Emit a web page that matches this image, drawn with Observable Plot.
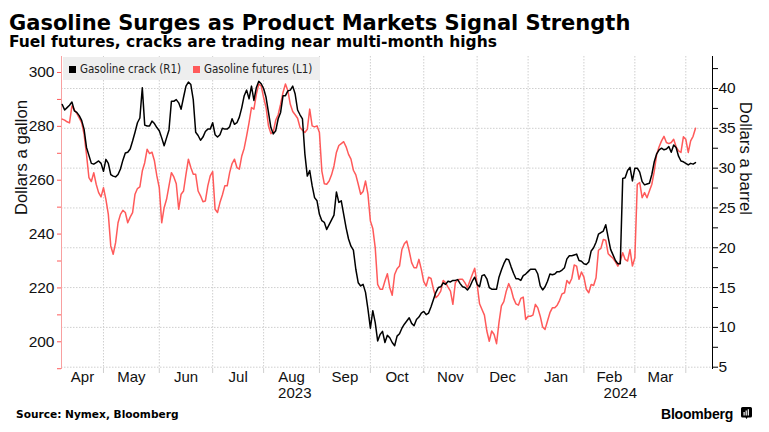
<!DOCTYPE html>
<html>
<head>
<meta charset="utf-8">
<script src="https://cdn.jsdelivr.net/npm/d3@7"></script>
<script src="https://cdn.jsdelivr.net/npm/@observablehq/plot@0.6"></script>
<style>
  body { margin: 0; background: #fff; }
  #wrap { position: relative; width: 769px; height: 432px; background: #fff; overflow: hidden; }
  .abs { position: absolute; white-space: nowrap; line-height: 1; }
  #title { left: 9px; top: 10.5px; font: bold 21px "DejaVu Sans", sans-serif; color: #000; }
  #subtitle { left: 9px; top: 33.4px; font: bold 15.5px "DejaVu Sans", sans-serif; color: #000; }
  #chart { position: absolute; left: 0; top: 50px; }
  #legend { position: absolute; left: 63px; top: 57px; width: 257px; height: 23px; background: #eeeeee;
            font: 11.5px "DejaVu Sans Condensed", sans-serif; color: #222; }
  #legend .item { position: absolute; top: 5.5px; line-height: 12px; }
  #legend .sw { display: inline-block; width: 7px; height: 7px; margin-right: 4px; vertical-align: 0px; }
  #source { left: 16px; top: 408px; font: bold 10.6px "DejaVu Sans", sans-serif; color: #000; }
  #brand { left: 661px; top: 405.7px; font: bold 14px "Liberation Sans", sans-serif; letter-spacing: -0.2px; color: #000; }
  #icon { position: absolute; left: 741px; top: 407px; }
</style>
</head>
<body>
<div id="wrap">
  <div id="title" class="abs">Gasoline Surges as Product Markets Signal Strength</div>
  <div id="subtitle" class="abs">Fuel futures, cracks are trading near multi-month highs</div>
  <div id="chart"></div>
  <div id="legend">
    <div class="item" style="left:6px"><span class="sw" style="background:#000"></span>Gasoline crack (R1)</div>
    <div class="item" style="left:130px"><span class="sw" style="background:#ff5a5a"></span>Gasoline futures (L1)</div>
  </div>
  <div id="source" class="abs">Source: Nymex, Bloomberg</div>
  <div id="brand" class="abs">Bloomberg</div>
  <svg id="icon" width="11" height="12" viewBox="0 0 11 12">
    <path d="M1.5 0 H9.5 A1.5 1.5 0 0 1 11 1.5 V9 A1.5 1.5 0 0 1 9.5 10.5 H6.5 L5.5 12 L4.5 10.5 H1.5 A1.5 1.5 0 0 1 0 9 V1.5 A1.5 1.5 0 0 1 1.5 0 Z" fill="#000"/>
    <rect x="2.5" y="5" width="1.2" height="3.5" fill="#fff"/>
    <rect x="4.6" y="3.5" width="1.2" height="5" fill="#fff"/>
    <rect x="6.7" y="2.2" width="1.2" height="6.3" fill="#fff"/>
  </svg>
</div>
<script>
// ---- Data (one value per weekday, starting at startDate) ----
const startDate = "2023-04-06";

// Gasoline crack, dollars a barrel (right axis, R1)
const crack = [
  38.0,37.3,37.6,37.9,38.3,37.2,37.0,36.6,36.0,34.9,
  32.6,31.6,30.6,30.5,30.7,30.9,30.6,29.6,31.1,30.6,
  29.2,29.0,28.9,29.2,29.9,31.0,31.9,32.0,32.4,33.4,
  34.5,35.7,36.3,40.1,35.4,35.3,35.3,35.9,35.6,35.1,
  34.7,33.8,32.8,33.8,34.8,38.4,38.4,38.6,38.2,37.4,
  38.9,40.3,40.8,40.5,38.6,34.5,34.1,33.5,33.9,34.6,
  34.9,34.9,35.7,34.2,33.9,34.2,35.0,34.9,34.9,35.2,
  36.2,35.5,35.7,36.4,37.6,39.1,39.8,38.7,40.3,38.5,
  40.1,40.9,40.6,40.0,38.9,37.0,35.1,34.3,34.7,36.2,
  37.0,39.1,39.1,39.7,39.8,40.3,39.3,37.3,36.7,36.2,
  31.8,29.0,29.7,27.8,26.3,25.9,24.2,23.4,23.2,22.3,
  22.9,23.5,24.1,27.0,25.7,25.9,24.2,22.5,21.1,20.2,
  19.7,17.3,15.6,15.2,15.4,14.4,12.3,9.9,12.1,10.6,
  8.3,9.1,9.5,8.1,9.0,8.7,8.1,7.7,8.9,9.2,
  9.9,10.4,10.8,11.2,10.5,10.2,11.0,11.3,11.8,12.0,
  11.6,11.8,12.6,13.5,14.4,15.0,15.1,15.6,15.4,15.8,
  15.7,15.9,15.9,16.0,15.5,15.1,15.0,14.7,15.1,15.8,
  16.3,15.4,15.1,16.5,16.6,16.1,15.0,14.8,14.8,14.8,
  16.3,17.2,18.0,18.6,18.5,17.6,16.8,16.1,16.1,15.9,
  16.5,16.7,17.0,17.3,17.3,17.3,16.7,15.2,14.7,15.1,
  15.8,16.7,16.6,16.7,17.0,17.0,17.2,17.5,18.6,19.0,
  19.0,19.1,19.2,18.4,18.3,18.0,17.9,18.2,19.6,20.0,
  20.7,21.7,21.9,22.1,22.9,21.3,19.8,19.1,18.4,18.0,
  18.0,28.7,28.8,29.7,30.1,28.4,30.0,30.0,29.5,28.3,
  27.9,28.0,28.1,29.2,30.8,31.8,32.3,32.5,32.3,32.4,
  32.7,32.0,32.9,32.6,31.5,30.9,30.8,30.6,30.4,30.6,
  30.5,30.7
];

// Gasoline futures, cents a gallon (left axis, L1)
const futures = [
  282.7,282.3,281.7,281.3,287.6,286.1,284.8,283.1,281.4,277.1,
  269.6,261.0,259.5,262.8,258.5,255.4,253.8,257.2,252.9,247.3,
  235.6,232.5,236.8,244.2,247.3,248.8,248.0,244.2,246.3,248.0,
  254.8,256.9,257.5,263.4,266.5,271.5,269.9,270.4,267.2,261.6,
  257.2,244.2,249.8,252.9,257.9,262.8,261.2,258.7,249.2,254.8,
  256.0,262.2,267.8,264.7,262.2,262.2,256.0,254.2,252.0,252.3,
  257.9,261.6,263.2,249.2,248.0,251.7,254.5,257.9,257.9,262.8,
  266.2,267.8,264.7,264.1,269.0,271.9,276.5,281.4,287.0,286.4,
  291.9,295.7,295.0,290.7,287.0,280.2,277.3,278.1,282.3,284.3,
  288.2,292.6,295.7,293.2,288.2,285.5,284.3,283.0,279.6,278.6,
  277.7,278.9,286.4,280.2,279.8,280.2,277.7,263.4,258.7,258.5,
  259.7,262.0,265.3,270.3,272.9,273.6,274.3,272.4,269.6,267.8,
  263.7,262.0,258.5,254.8,255.8,259.7,254.8,244.9,242.1,234.9,
  221.3,219.5,219.5,222.6,225.3,220.1,217.3,225.0,227.1,228.1,
  234.3,236.4,237.4,233.7,229.4,227.5,227.5,230.6,226.9,222.3,
  220.7,224.0,223.5,219.5,216.4,217.3,218.8,222.8,221.9,220.3,
  218.8,213.9,221.9,223.0,223.2,223.2,221.9,220.1,222.6,225.0,
  227.3,221.3,214.1,212.0,209.9,204.0,200.2,204.0,202.7,199.3,
  207.1,213.3,214.9,218.8,221.6,219.5,216.1,214.1,213.6,216.1,
  216.6,208.3,209.5,209.5,209.9,213.9,212.6,209.5,205.5,204.6,
  207.7,210.8,212.6,212.6,213.6,215.4,217.8,218.2,222.8,221.6,
  223.5,228.5,228.1,223.2,225.9,224.0,219.5,218.2,221.3,220.9,
  223.8,234.0,234.7,238.0,237.7,232.7,231.8,231.0,229.7,228.1,
  230.0,233.1,230.6,230.0,234.3,228.1,231.2,258.5,259.1,253.5,
  255.4,253.5,256.0,258.5,263.4,269.6,272.4,274.6,276.3,274.0,
  273.6,274.0,275.2,272.4,270.9,270.3,276.1,275.2,270.3,274.6,
  276.3,279.3
];

// Axis labels
const monthLabels = ["Apr","May","Jun","Jul","Aug","Sep","Oct","Nov","Dec","Jan","Feb","Mar"];
const yearLabels = ["2023","2024"];
const leftTicks = [190,200,210,220,230,240,250,260,270,280,290,300];
const leftLabelStep = 20;
const rightTicks = [5,7.5,10,12.5,15,17.5,20,22.5,25,27.5,30,32.5,35,37.5,40,42.5];
const rightGrid = [5,10,15,20,25,30,35,40];

// ---- Scales ----
const leftDomain = [189.71, 305.94];
const rightDomain = [4.71, 44.02];
const toR = d3.scaleLinear().domain(leftDomain).range(rightDomain);
const fromR = toR.copy().domain(rightDomain).range(leftDomain);

// weekday calendar: index = trading-day position
const start = new Date(startDate + "T00:00:00Z");
const days = d3.utcDays(start, d3.utcDay.offset(start, 420)).filter(d => d.getUTCDay() % 6 !== 0);
const xMin = -0.3, xMax = 268;
const monthStarts = [];
let yearStart = null;
for (let i = 1; i < days.length && i < xMax; i++) {
  if (days[i].getUTCMonth() !== days[i - 1].getUTCMonth()) {
    monthStarts.push(i);
    if (days[i].getUTCMonth() === 0) yearStart = i;
  }
}
const bounds = [xMin, ...monthStarts];
const monthMids = monthLabels.map((label, k) => ({x: (bounds[k] + (bounds[k + 1] ?? xMax)) / 2, label}));
const yearMids = [
  {x: (xMin + yearStart) / 2, label: yearLabels[0]},
  {x: (yearStart + xMax) / 2, label: yearLabels[1]}
];

const crackData = crack.map((v, i) => ({i, v}));
const futData = futures.map((v, i) => ({i, v}));

const RED = "#ff5a5a";
const GRID = {stroke: "#cfcfcf", strokeOpacity: 1, strokeWidth: 1, strokeDasharray: "1.5,1.5"};

const chart = Plot.plot({
  width: 769,
  height: 360,
  marginTop: 6,
  marginBottom: 41,
  marginLeft: 61,
  marginRight: 57,
  x: {type: "linear", domain: [xMin, xMax], axis: null, label: null},
  y: {type: "linear", domain: rightDomain, axis: null, label: null},
  style: {fontFamily: "'Liberation Sans Narrow', sans-serif", fontSize: "15px", color: "#111", background: "transparent"},
  marks: [
    Plot.gridY(rightGrid, GRID),
    Plot.gridX(monthStarts, GRID),
    Plot.axisX(monthStarts, {tickSize: 4, tickFormat: () => "", stroke: "#cfcfcf", label: null}),
    Plot.axisY(leftTicks.map(v => toR(v)), {
      anchor: "left", tickSize: 4, tickPadding: 3, stroke: RED, fill: "#111", label: null, fontSize: 15.5,
      tickFormat: d => { const v = Math.round(fromR(d)); return v % leftLabelStep === 0 ? String(v) : ""; }
    }),
    Plot.axisY(rightTicks, {
      anchor: "right", tickSize: 5, tickPadding: 1, stroke: "#000", fill: "#111", label: null, fontSize: 15.5,
      tickFormat: d => (d % 5 === 0 ? String(d) : "")
    }),
    Plot.ruleX([xMin], {stroke: "#f8a0a0", strokeWidth: 1}),
    Plot.ruleX([xMax], {stroke: "#000", strokeWidth: 1}),
    Plot.line(futData, {x: "i", y: d => toR(d.v), stroke: RED, strokeWidth: 1.5}),
    Plot.line(crackData, {x: "i", y: "v", stroke: "#000", strokeWidth: 1.5}),
    Plot.text(monthMids, {x: "x", text: "label", frameAnchor: "bottom", dy: 12.2, fill: "#111", fontSize: 15}),
    Plot.text(yearMids, {x: "x", text: "label", frameAnchor: "bottom", dy: 28.3, fill: "#111", fontSize: 15}),
    Plot.text(["Dollars a gallon"], {frameAnchor: "left", dx: -40, dy: 2, rotate: -90, fontFamily: "'Liberation Sans', sans-serif", fontSize: 16.7, fill: "#111"}),
    Plot.text(["Dollars a barrel"], {frameAnchor: "right", dx: 33, dy: 2, rotate: 90, fontFamily: "'Liberation Sans', sans-serif", fontSize: 16.7, fill: "#111"})
  ]
});
document.getElementById("chart").appendChild(chart);
</script>
</body>
</html>
